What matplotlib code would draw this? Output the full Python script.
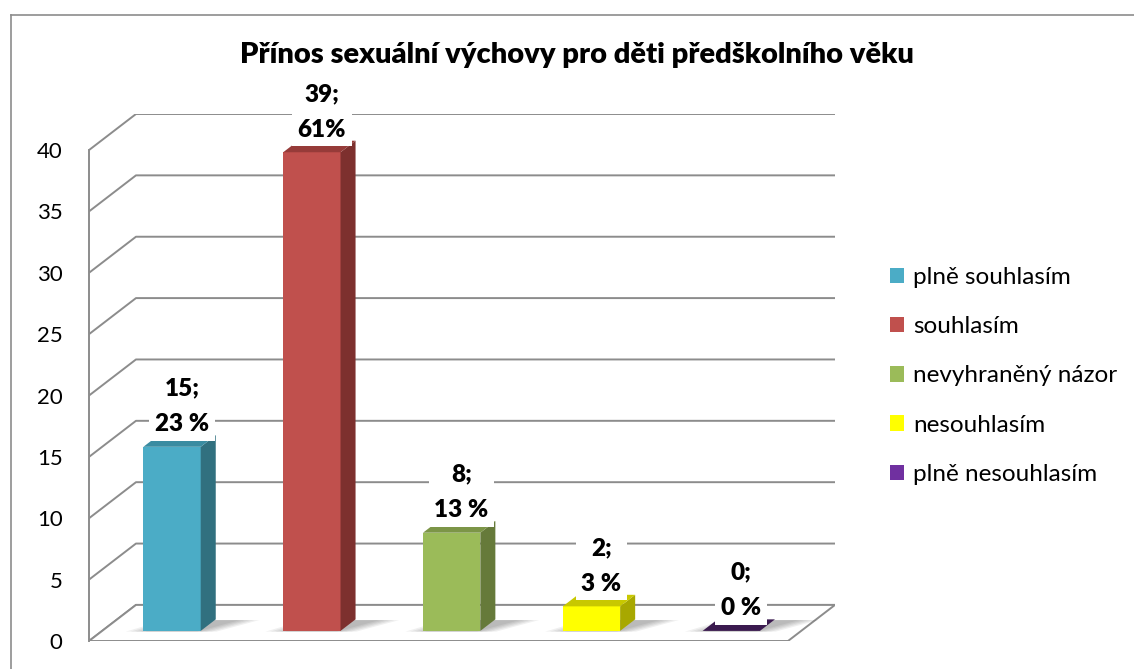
import numpy as np
import matplotlib
matplotlib.use("Agg")
from matplotlib import pyplot as plt
from matplotlib.patches import Polygon, Patch
from matplotlib.lines import Line2D

categories = ["plně souhlasím", "souhlasím", "nevyhraněný názor", "nesouhlasím", "plně nesouhlasím"]
counts = [15, 39, 8, 2, 0]
percents = ["23 %", "61%", "13 %", "3 %", "0 %"]
yticks = [0, 5, 10, 15, 20, 25, 30, 35, 40]
title = "Přínos sexuální výchovy pro děti předškolního věku"

front_colors = ["#4BACC6", "#C0504D", "#9BBB59", "#FFFF00", "#7030A0"]
side_colors = ["#31707F", "#7D302E", "#667A3A", "#A8A800", "#3B1A4F"]
top_colors = ["#3A8CA1", "#963B39", "#7C9547", "#C8C800", "#3B1A4F"]

plt.rcParams["font.family"] = ["Lato", "DejaVu Sans"]

# oblique depth offset (in data units) and bar depth range
DX, DY = 0.336, 2.94
D0, D1 = 0.28, 0.6
W = 0.41
GRID = "#8C8C8C"


def proj(x, v, d):
    return (x + d * DX, v + d * DY)


fig = plt.figure(figsize=(11.34, 6.69), dpi=100)
ax = fig.add_axes([89 / 1134, 28 / 669, 746 / 1134, 527 / 669])
ax.set_xlim(-0.5, 4.5 + DX)
ax.set_ylim(0, 40 + DY)
xmin, xmax = -0.5, 4.5

# back wall gridlines with the diagonal left wall part
for t in yticks:
    pts = [proj(xmin, t, 0), proj(xmin, t, 1), proj(xmax, t, 1)]
    ax.plot(*zip(*pts), color=GRID, lw=1.4, zorder=1, solid_capstyle="butt")

# floor
floor = [proj(xmin, 0, 0), proj(xmax, 0, 0), proj(xmax, 0, 1), proj(xmin, 0, 1)]
ax.add_patch(Polygon(floor, closed=True, facecolor="white", edgecolor=GRID, lw=1.4, zorder=2))

# bars
for i, v in enumerate(counts):
    x0, x1 = i - W / 2, i + W / 2
    # soft shadow on the floor, faked with stacked translucent layers
    for k in range(5):
        g = 0.035 * k
        sh = [proj(x0 - 0.12 + g, 0, D0 - 0.02), proj(x1 + 0.12 - g, 0, D0 - 0.02),
              proj(x1 + 0.32 - g, 0, D1 - 0.02), proj(x0 + 0.05 + g, 0, D1 - 0.02)]
        ax.add_patch(Polygon(sh, closed=True, facecolor="#000000", alpha=0.06, lw=0, zorder=3))
    if v > 0:
        front = [proj(x0, 0, D0), proj(x1, 0, D0), proj(x1, v, D0), proj(x0, v, D0)]
        side = [proj(x1, 0, D0), proj(x1, 0, D1), proj(x1, v, D1), proj(x1, v, D0)]
        ax.add_patch(Polygon(front, closed=True, facecolor=front_colors[i], lw=0, zorder=4))
        ax.add_patch(Polygon(side, closed=True, facecolor=side_colors[i], lw=0, zorder=4))
    top = [proj(x0, v, D0), proj(x1, v, D0), proj(x1, v, D1), proj(x0, v, D1)]
    ax.add_patch(Polygon(top, closed=True, facecolor=top_colors[i], lw=0, zorder=4))

    lx, ly = proj(i, v, (D0 + D1) / 2 + 0.05)
    ax.annotate(f"{v};\n{percents[i]}", (lx, ly), xytext=(0, 3), textcoords="offset points",
                ha="center", va="bottom", fontsize=17.5, fontweight="heavy", linespacing=1.75,
                zorder=6, bbox=dict(facecolor="white", edgecolor="none", pad=4))

# front axis
for s in ["top", "right", "bottom"]:
    ax.spines[s].set_visible(False)
ax.spines["left"].set_bounds(0, 40)
ax.spines["left"].set_color(GRID)
ax.spines["left"].set_linewidth(1.4)
ax.set_yticks(yticks)
ax.set_yticklabels([str(t) for t in yticks])
ax.tick_params(axis="y", length=0, pad=19, labelsize=16, colors="black")
ax.set_xticks([])

fig.text(577 / 1134, 1 - 55 / 669, title, ha="center", va="center", fontsize=21,
         fontweight="heavy")

handles = [Patch(facecolor=c, edgecolor="none") for c in front_colors]
fig.legend(handles, categories, loc="center left", bbox_to_anchor=(868 / 1134, 1 - 376 / 669),
           frameon=False, fontsize=17.5, handlelength=0.6, handleheight=0.6, handletextpad=0.35,
           labelspacing=1.16)

# outer chart border
fig.add_artist(Line2D([11 / 1134, 11 / 1134], [0, 1 - 14.5 / 669], color="#8C8C8C", lw=1.2))
fig.add_artist(Line2D([11 / 1134, 1], [1 - 14.5 / 669, 1 - 14.5 / 669], color="#8C8C8C", lw=1.2))

fig.savefig("out.png", dpi=100, facecolor="white")
